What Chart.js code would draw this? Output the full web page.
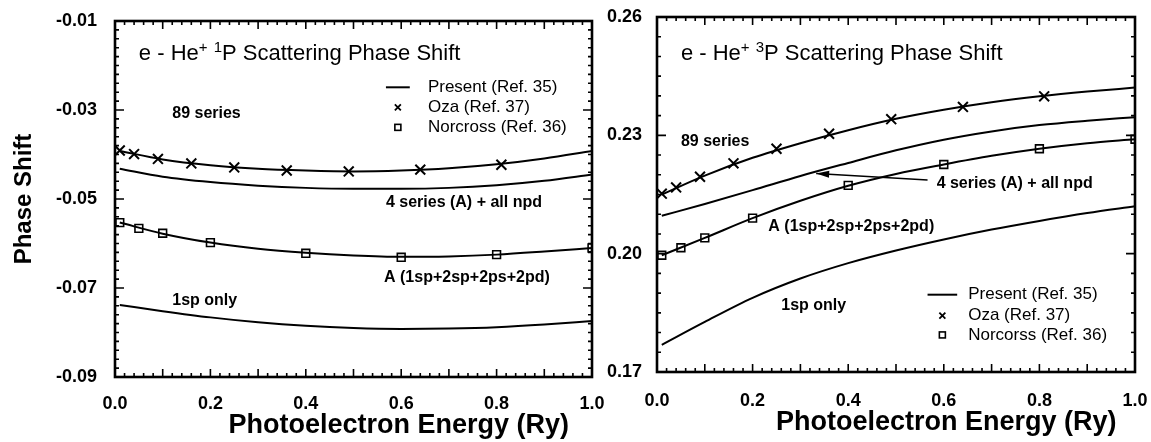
<!DOCTYPE html>
<html>
<head>
<meta charset="utf-8">
<script src="https://cdn.jsdelivr.net/npm/chart.js@4.4.1/dist/chart.umd.min.js"></script>
<style>
  html, body { margin: 0; padding: 0; background: #fff; }
  #wrap { position: relative; width: 1151px; height: 442px; overflow: hidden; background: #fff; }
  .panel { position: absolute; top: 0; }
</style>
</head>
<body>
<div id="wrap">
  <canvas id="singlet" class="panel" style="left:0" width="606" height="442"></canvas>
  <canvas id="triplet" class="panel" style="left:600px" width="551" height="442"></canvas>
</div>
<script>
// energies (Ry) where the curves were read, and where the two reference sets sit
const energyGrid = [0.01, 0.1, 0.2, 0.3, 0.4, 0.5, 0.6, 0.7, 0.8, 0.9, 1.0];
const ozaEnergy = [0.01, 0.04, 0.09, 0.16, 0.25, 0.36, 0.49, 0.64, 0.81];
const norcrossEnergy = [0.01, 0.05, 0.1, 0.2, 0.4, 0.6, 0.8, 1.0];

// 1P phase shifts
const singlet89 = [-0.0392, -0.0411, -0.0424, -0.0432, -0.0436, -0.0438, -0.0436, -0.0431, -0.0422, -0.0409, -0.0392];
const singlet4A = [-0.0432, -0.0450, -0.0462, -0.0470, -0.0475, -0.0477, -0.0477, -0.0475, -0.0469, -0.0459, -0.0445];
const singletA = [-0.0553, -0.0578, -0.0598, -0.0612, -0.0621, -0.0627, -0.0630, -0.0629, -0.0625, -0.0618, -0.0610];
const singlet1sp = [-0.0738, -0.0752, -0.0766, -0.0777, -0.0785, -0.0790, -0.0792, -0.0791, -0.0788, -0.0782, -0.0774];
const singletOza = [-0.0391, -0.0399, -0.0410, -0.0420, -0.0429, -0.0436, -0.0438, -0.0434, -0.0423];
const singletNorcross = [-0.0553, -0.0566, -0.0577, -0.0598, -0.0622, -0.0631, -0.0625, -0.0610];

// 3P phase shifts
const triplet89 = [0.2150, 0.2198, 0.2243, 0.2280, 0.2313, 0.2342, 0.2365, 0.2384, 0.2399, 0.2411, 0.2421];
const triplet4A = [0.2096, 0.2126, 0.2161, 0.2197, 0.2230, 0.2262, 0.2289, 0.2310, 0.2326, 0.2337, 0.2346];
const tripletA = [0.1996, 0.2040, 0.2090, 0.2134, 0.2172, 0.2202, 0.2226, 0.2248, 0.2266, 0.2280, 0.2290];
const triplet1sp = [0.1769, 0.1827, 0.1888, 0.1937, 0.1976, 0.2008, 0.2036, 0.2061, 0.2083, 0.2103, 0.2120];
const tripletOza = [0.2152, 0.2168, 0.2195, 0.2229, 0.2266, 0.2304, 0.2341, 0.2372, 0.2399];
const tripletNorcross = [0.1996, 0.2015, 0.2040, 0.2090, 0.2173, 0.2226, 0.2266, 0.2290];

const singletTicks = [-0.09, -0.07, -0.05, -0.03, -0.01];
const tripletTicks = [0.17, 0.20, 0.23, 0.26];
const energyTicks = [0.0, 0.2, 0.4, 0.6, 0.8, 1.0];

const FONT = '"Liberation Sans", Arial, Helvetica, sans-serif';
Chart.defaults.font.family = FONT;
Chart.defaults.color = '#000';

function pairs(xs, ys) {
  return xs.map((x, i) => ({ x: x, y: ys[i] }));
}

function cross(ctx, x, y, r) {
  ctx.beginPath();
  ctx.moveTo(x - r, y - r); ctx.lineTo(x + r, y + r);
  ctx.moveTo(x - r, y + r); ctx.lineTo(x + r, y - r);
  ctx.stroke();
}

// frame, inward ticks, in-plot legend and labels
const decor = {
  id: 'decor',
  afterDatasetsDraw(chart, args, o) {
    const ctx = chart.ctx, a = chart.chartArea;
    const xs = chart.scales.x, ys = chart.scales.y;
    const P = (e, v) => [xs.getPixelForValue(e), ys.getPixelForValue(v)];
    ctx.save();
    ctx.strokeStyle = '#000';
    ctx.fillStyle = '#000';

    ctx.lineWidth = 1.6;
    ctx.beginPath();
    for (let i = 0; i <= 50; i++) {
      const x = xs.getPixelForValue(i * 0.02);
      const len = i % 5 === 0 ? 8 : 4;
      ctx.moveTo(x, a.bottom); ctx.lineTo(x, a.bottom - len);
      ctx.moveTo(x, a.top); ctx.lineTo(x, a.top + len);
    }
    const n = Math.round((ys.max - ys.min) / o.yMinor);
    for (let i = 0; i <= n; i++) {
      const y = ys.getPixelForValue(ys.min + i * o.yMinor);
      const len = i % o.yMajorEvery === 0 ? 9 : 4;
      ctx.moveTo(a.left, y); ctx.lineTo(a.left + len, y);
      ctx.moveTo(a.right, y); ctx.lineTo(a.right - len, y);
    }
    ctx.stroke();

    ctx.lineWidth = 2.6;
    ctx.strokeRect(a.left, a.top, a.right - a.left, a.bottom - a.top);

    // panel heading with superscripts
    let [tx, ty] = P(o.heading.e, o.heading.v);
    ctx.textBaseline = 'alphabetic';
    ctx.textAlign = 'left';
    o.heading.parts.forEach(([t, sup]) => {
      ctx.font = sup ? '15px ' + FONT : '22px ' + FONT;
      ctx.fillText(t, tx, sup ? ty - 8 : ty);
      tx += ctx.measureText(t).width;
    });

    // legend
    const lg = o.legend;
    ctx.font = '17px ' + FONT;
    ctx.textBaseline = 'middle';
    lg.rows.forEach((v, i) => {
      const y = ys.getPixelForValue(v);
      if (i === 0) {
        ctx.lineWidth = 2;
        ctx.beginPath();
        ctx.moveTo(xs.getPixelForValue(lg.lineFrom), y);
        ctx.lineTo(xs.getPixelForValue(lg.lineTo), y);
        ctx.stroke();
      } else if (i === 1) {
        ctx.lineWidth = 1.8;
        cross(ctx, xs.getPixelForValue(lg.symbolAt), y, 3);
      } else {
        ctx.lineWidth = 1.6;
        ctx.strokeRect(xs.getPixelForValue(lg.symbolAt) - 3, y - 3, 6, 6);
      }
      ctx.fillText(lg.labels[i], xs.getPixelForValue(lg.textAt), y);
    });

    // curve labels
    ctx.font = 'bold 16px ' + FONT;
    o.notes.forEach(nt => {
      const [x, y] = P(nt.e, nt.v);
      ctx.fillText(nt.text, x, y);
    });

    if (o.arrow) {
      const [x0, y0] = P(o.arrow.from[0], o.arrow.from[1]);
      const [x1, y1] = P(o.arrow.to[0], o.arrow.to[1]);
      const ang = Math.atan2(y1 - y0, x1 - x0);
      ctx.lineWidth = 1.5;
      ctx.beginPath();
      ctx.moveTo(x0, y0); ctx.lineTo(x1, y1);
      ctx.stroke();
      ctx.beginPath();
      ctx.moveTo(x1, y1);
      ctx.lineTo(x1 - 13 * Math.cos(ang) + 3.5 * Math.sin(ang), y1 - 13 * Math.sin(ang) - 3.5 * Math.cos(ang));
      ctx.lineTo(x1 - 13 * Math.cos(ang) - 3.5 * Math.sin(ang), y1 - 13 * Math.sin(ang) + 3.5 * Math.cos(ang));
      ctx.closePath();
      ctx.fill();
    }

    // energy axis title
    ctx.font = 'bold 27px ' + FONT;
    ctx.textAlign = 'center';
    ctx.fillText('Photoelectron Energy (Ry)', xs.getPixelForValue(o.xTitleAt), a.bottom + o.xTitleDrop);
    ctx.restore();
  }
};

// invisible tick marks keep the label gap out of the scale padding
const hiddenGrid = (len) => ({
  display: true, drawOnChartArea: false, drawTicks: true, tickLength: len, color: 'rgba(0,0,0,0)'
});

function makeChart(id, d) {
  const line = (data) => ({
    data: data, borderColor: '#000', borderWidth: 2, pointRadius: 0,
    cubicInterpolationMode: 'monotone', fill: false
  });
  return new Chart(document.getElementById(id), {
    type: 'line',
    data: {
      datasets: [
        line(pairs(energyGrid, d.c89)),
        line(pairs(energyGrid, d.c4A)),
        line(pairs(energyGrid, d.cA)),
        line(pairs(energyGrid, d.c1sp)),
        {
          data: pairs(ozaEnergy, d.oza), showLine: false, pointStyle: 'crossRot',
          pointRadius: 7, borderColor: '#000', pointBorderWidth: 2
        },
        {
          data: pairs(norcrossEnergy, d.norcross), showLine: false, pointStyle: 'rect',
          pointRadius: 5.5, borderColor: '#000', backgroundColor: '#fff', pointBorderWidth: 1.6
        }
      ]
    },
    options: {
      responsive: false,
      animation: false,
      layout: { padding: d.pad },
      plugins: { legend: { display: false }, tooltip: { enabled: false }, decor: d.decor },
      scales: {
        x: {
          type: 'linear', min: 0, max: 1,
          grid: hiddenGrid(d.xGap), border: { display: false },
          afterBuildTicks: s => { s.ticks = energyTicks.map(v => ({ value: v })); },
          ticks: { font: { size: 18, weight: 'bold' }, padding: 0, maxRotation: 0,
                   callback: v => v.toFixed(1) },
          afterFit: s => { s.height = d.xHeight; }
        },
        y: {
          type: 'linear', min: d.yTicks[0], max: d.yTicks[d.yTicks.length - 1],
          grid: hiddenGrid(d.yGap), border: { display: false },
          afterBuildTicks: s => { s.ticks = d.yTicks.map(v => ({ value: v })); },
          ticks: { font: { size: 18, weight: 'bold' }, padding: 0,
                   callback: v => v.toFixed(2) },
          title: d.yTitle,
          afterFit: s => { s.width = d.yWidth; }
        }
      }
    },
    plugins: [decor]
  });
}

makeChart('singlet', {
  c89: singlet89, c4A: singlet4A, cA: singletA, c1sp: singlet1sp,
  oza: singletOza, norcross: singletNorcross, yTicks: singletTicks,
  pad: { left: 0, top: 21, right: 14, bottom: 0 },
  xHeight: 65, yWidth: 115, xGap: 16, yGap: 18,
  yTitle: { display: true, text: 'Phase Shift', font: { size: 24, weight: 'bold' }, padding: { top: 10, bottom: 0 } },
  decor: {
    yMinor: 0.002, yMajorEvery: 10, xTitleAt: 0.595, xTitleDrop: 49,
    heading: { e: 0.05, v: -0.0188, parts: [['e - He', false], ['+', true], [' ', false], ['1', true], ['P Scattering Phase Shift', false]] },
    legend: { rows: [-0.0249, -0.0294, -0.0339], lineFrom: 0.568, lineTo: 0.618, symbolAt: 0.593, textAt: 0.656,
              labels: ['Present (Ref. 35)', 'Oza (Ref. 37)', 'Norcross (Ref. 36)'] },
    notes: [
      { text: '89 series', e: 0.12, v: -0.0309 },
      { text: '4 series (A) + all npd', e: 0.568, v: -0.0509 },
      { text: 'A (1sp+2sp+2ps+2pd)', e: 0.564, v: -0.0677 },
      { text: '1sp only', e: 0.12, v: -0.0728 }
    ]
  }
});

makeChart('triplet', {
  c89: triplet89, c4A: triplet4A, cA: tripletA, c1sp: triplet1sp,
  oza: tripletOza, norcross: tripletNorcross, yTicks: tripletTicks,
  pad: { left: 0, top: 17, right: 16, bottom: 0 },
  xHeight: 70, yWidth: 57, xGap: 18, yGap: 15,
  yTitle: { display: false },
  decor: {
    yMinor: 0.005, yMajorEvery: 6, xTitleAt: 0.605, xTitleDrop: 51,
    heading: { e: 0.05, v: 0.2492, parts: [['e - He', false], ['+', true], [' ', false], ['3', true], ['P Scattering Phase Shift', false]] },
    legend: { rows: [0.1896, 0.1843, 0.1794], lineFrom: 0.566, lineTo: 0.628, symbolAt: 0.597, textAt: 0.651,
              labels: ['Present (Ref. 35)', 'Oza (Ref. 37)', 'Norcorss (Ref. 36)'] },
    notes: [
      { text: '89 series', e: 0.05, v: 0.2284 },
      { text: '4 series (A) + all npd', e: 0.585, v: 0.2177 },
      { text: 'A (1sp+2sp+2ps+2pd)', e: 0.233, v: 0.2068 },
      { text: '1sp only', e: 0.26, v: 0.1868 }
    ],
    arrow: { from: [0.566, 0.2187], to: [0.333, 0.2203] }
  }
});
</script>
</body>
</html>
